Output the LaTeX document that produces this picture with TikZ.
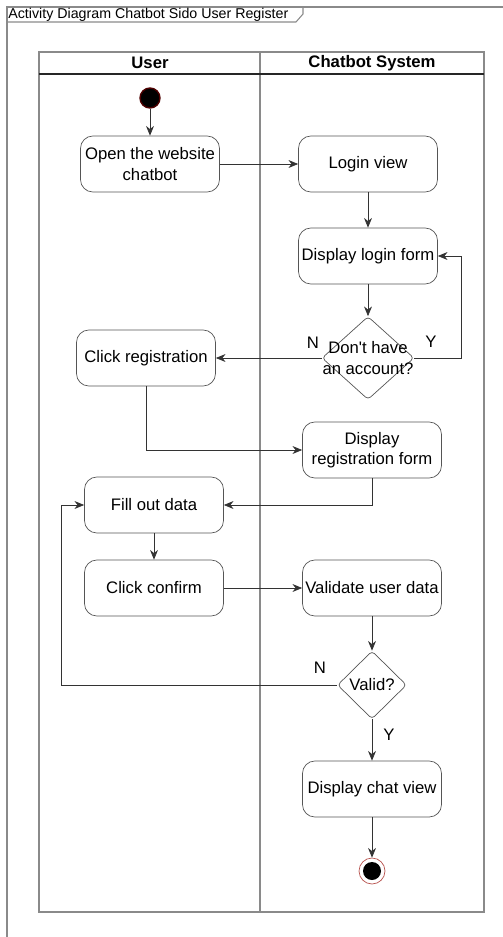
\documentclass[tikz,border=0pt]{standalone}
\usepackage{fontspec}
\setmainfont{Liberation Sans}
\usetikzlibrary{calc, arrows.meta, shapes.geometric}
\definecolor{lanegray}{HTML}{8A8A8A}
\definecolor{boxgray}{HTML}{555555}
\definecolor{startred}{HTML}{4D0000}
\definecolor{endred}{HTML}{B85450}
\tikzset{
    >={Stealth[length=5.5pt,width=4.5pt]},
    act/.style={draw=boxgray, rounded corners=7pt, minimum width=2.78cm, minimum height=1.12cm,
        align=center, inner sep=1pt, font=\fontsize{9.5}{11.5}\selectfont},
    decision/.style={diamond, draw=boxgray, rounded corners=2pt, inner sep=0pt},
    startnode/.style={circle, fill=black, draw=startred, line width=0.8pt, minimum size=0.4cm, inner sep=0pt},
    endnode/.style={circle, draw=endred, fill=white, minimum size=0.52cm, inner sep=0pt,
        path picture={\fill[black] (path picture bounding box.center) circle (0.18cm);}},
    flow/.style={->, draw=black!80},
    guard/.style={font=\fontsize{9.5}{11.5}\selectfont},
}
\begin{document}
\begin{tikzpicture}[x=0.02cm, y=-0.02cm]
            \useasboundingbox (0,0) rectangle (503,937);
            % frame and title tab
            \draw[lanegray, line width=0.8pt] (7,937)--(7,7)--(503,7);
            \draw[lanegray, line width=0.6pt] (7,22)--(296,22)--(303,14)--(303,7);
            \node[anchor=west, inner sep=0pt, font=\fontsize{8.1}{10}\selectfont] (Title) at (8,15) {Activity Diagram Chatbot Sido User Register};

            % swimlanes
            \draw[lanegray, line width=0.7pt] (39,52) rectangle (484,912);
            \draw[lanegray, line width=0.7pt] (260,52)--(260,912);
            \draw[black!85, line width=0.7pt] (39,74)--(484,74);
            \node[font=\fontsize{9.5}{11.5}\selectfont\bfseries] (UserLane) at (150,63) {User};
            \node[font=\fontsize{9.5}{11.5}\selectfont\bfseries] (SysLane) at (372,63) {Chatbot System};

            % activities
            \node[startnode] (Start) at (150,98) {};
            \node[act] (Open) at (150,164) {Open the website\\chatbot};
            \node[act] (Login) at (368,164) {Login view};
            \node[act] (LForm) at (368,256) {Display login form};
            \node[decision, minimum width=1.84cm, minimum height=1.66cm] (Acc) at (368,358) {};
            \node[align=center, font=\fontsize{9.5}{11.5}\selectfont] (AccText) at (Acc.center) {Don\textquotesingle t have\\an account?};
            \node[act] (Reg) at (146,358) {Click registration};
            \node[act] (RForm) at (372,450) {Display\\registration form};
            \node[act] (Fill) at (154,505) {Fill out data};
            \node[act] (Confirm) at (154,588) {Click confirm};
            \node[act] (Valid) at (372,588) {Validate user data};
            \node[decision, minimum width=1.38cm, minimum height=1.36cm] (Chk) at (372,685) {};
            \node[font=\fontsize{9.5}{11.5}\selectfont] (ChkText) at (Chk.center) {Valid?};
            \node[act] (Chat) at (372,789) {Display chat view};
            \node[endnode] (End) at (372,871) {};

            % connectors
            \draw[flow] (Start)--(Open);
            \draw[flow] (Open)--(Login);
            \draw[flow] (Login)--(LForm);
            \draw[flow] (LForm)--(Acc);
            \draw[flow] (Acc.east) -| ($(LForm.east)+(24,0)$) -- (LForm.east);
            \draw[flow] (Acc.west)--(Reg.east);
            \draw[flow] (Reg.south) |- (RForm.west);
            \draw[flow] (RForm.south) |- (Fill.east);
            \draw[flow] (Fill)--(Confirm);
            \draw[flow] (Confirm)--(Valid);
            \draw[flow] (Valid)--(Chk);
            \draw[flow] (Chk.west) -| ($(Fill.west)+(-23,0)$) -- (Fill.west);
            \draw[flow] (Chk)--(Chat);
            \draw[flow] (Chat)--(End);

            % guards
            \node[guard] (AccN) at (313,343) {N};
            \node[guard] (AccY) at (431,342) {Y};
            \node[guard] (ChkN) at (320,668) {N};
            \node[guard] (ChkY) at (389,735) {Y};
        \end{tikzpicture}
\end{document}
